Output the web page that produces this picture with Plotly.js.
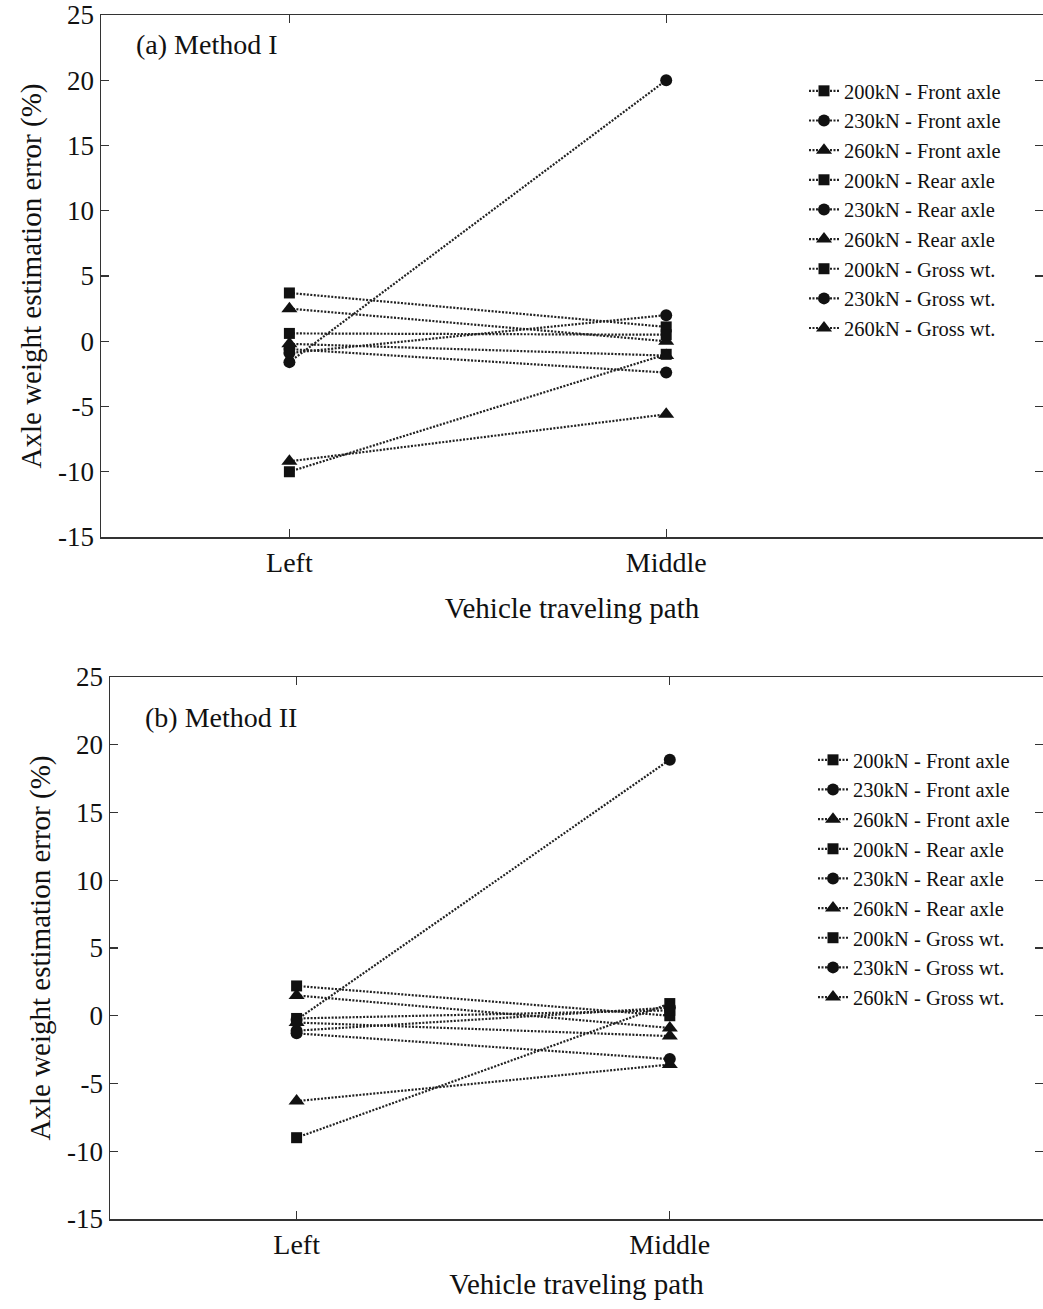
<!DOCTYPE html>
<html><head><meta charset="utf-8">
<script src="https://cdn.plot.ly/plotly-3.0.1.min.js"></script>
<style>html,body{margin:0;padding:0;background:#fff}</style>
</head><body><div id="chart" style="width:1043px;height:1309px"></div>
<script>
// Categories (vehicle traveling path)
const paths = ['Left', 'Middle'];

// Y tick labels (hyphen minus as printed)
const yTickVals = [-15, -10, -5, 0, 5, 10, 15, 20, 25];
const yTickText = ['-15', '-10', '-5', '0', '5', '10', '15', '20', '25'];

// Series names and marker symbols
const seriesNames = [
  '200kN - Front axle', '230kN - Front axle', '260kN - Front axle',
  '200kN - Rear axle', '230kN - Rear axle', '260kN - Rear axle',
  '200kN - Gross wt.', '230kN - Gross wt.', '260kN - Gross wt.'
];
const seriesSymbols = ['square', 'circle', 'triangle-up', 'square', 'circle', 'triangle-up', 'square', 'circle', 'triangle-up'];

// (a) Method I values (%), [Left, Middle]
const m1_200front = [-10.0, -1.0];
const m1_230front = [-1.6, 20.0];
const m1_260front = [-9.2, -5.6];
const m1_200rear  = [3.7, 1.1];
const m1_230rear  = [-0.6, -2.4];
const m1_260rear  = [2.5, 0.0];
const m1_200gross = [0.6, 0.5];
const m1_230gross = [-0.9, 2.0];
const m1_260gross = [-0.2, -1.1];

// (b) Method II values (%), [Left, Middle]
const m2_200front = [-9.0, 0.9];
const m2_230front = [-0.3, 18.9];
const m2_260front = [-6.3, -3.6];
const m2_200rear  = [2.2, 0.0];
const m2_230rear  = [-1.3, -3.2];
const m2_260rear  = [1.5, -0.9];
const m2_200gross = [-0.2, 0.4];
const m2_230gross = [-1.1, 0.6];
const m2_260gross = [-0.5, -1.5];

const methodI = [m1_200front, m1_230front, m1_260front, m1_200rear, m1_230rear, m1_260rear, m1_200gross, m1_230gross, m1_260gross];
const methodII = [m2_200front, m2_230front, m2_260front, m2_200rear, m2_230rear, m2_260rear, m2_200gross, m2_230gross, m2_260gross];

const FONT = 'Liberation Serif, Times New Roman, serif';
const INK = '#111';

const traces = [];
function addSeries(values, xa, ya, leg) {
  values.forEach((v, i) => {
    const sym = seriesSymbols[i];
    traces.push({
      type: 'scatter', mode: 'lines+markers',
      x: paths, y: v, xaxis: xa, yaxis: ya,
      name: seriesNames[i], legend: leg,
      line: {color: '#222', width: 2.2, dash: '2px,1.5px'},
      marker: {symbol: sym, color: INK, size: sym === 'triangle-up' ? 14 : (sym === 'circle' ? 12 : 11)},
      cliponaxis: false
    });
  });
}
addSeries(methodI, 'x', 'y', 'legend');
addSeries(methodII, 'x2', 'y2', 'legend2');

const W = 1043, H = 1309;
function yaxisCfg(top, bottom) {
  return {
    domain: [1 - bottom / H, 1 - top / H],
    range: [-15, 25], tickmode: 'array', tickvals: yTickVals, ticktext: yTickText,
    ticks: 'inside', ticklen: 8, tickcolor: '#333', tickwidth: 1.2,
    showline: true, linecolor: '#333', linewidth: 1.5, mirror: 'ticks',
    showgrid: false, zeroline: false,
    tickfont: {family: FONT, size: 27, color: INK},
    title: {text: 'Axle weight estimation error (%)', font: {family: FONT, size: 29, color: INK}, standoff: 8}
  };
}
function xaxisCfg(left, yanchor, standoff) {
  return {
    domain: [left / W, 1], anchor: yanchor,
    type: 'category', range: [-0.5, 2.0],
    ticks: 'inside', ticklen: 8, tickcolor: '#333', tickwidth: 1.2,
    showline: true, linecolor: '#333', linewidth: 1.5, mirror: 'ticks',
    showgrid: false, zeroline: false,
    tickfont: {family: FONT, size: 28, color: INK},
    title: {text: 'Vehicle traveling path', font: {family: FONT, size: 29, color: INK}, standoff: standoff}
  };
}

const legendCommon = {
  xanchor: 'left', yanchor: 'top', bgcolor: 'rgba(0,0,0,0)',
  font: {family: FONT, size: 20.5, color: INK}, itemwidth: 30
};

const layout = {
  width: W, height: H,
  margin: {l: 0, r: 0, t: 0, b: 0},
  paper_bgcolor: '#fff', plot_bgcolor: '#fff',
  showlegend: true,
  xaxis: xaxisCfg(101, 'y', 20),
  yaxis: Object.assign(yaxisCfg(15, 537), {anchor: 'x'}),
  xaxis2: xaxisCfg(110, 'y2', 14),
  yaxis2: Object.assign(yaxisCfg(677, 1219), {anchor: 'x2'}),
  legend: Object.assign({x: 804 / W, y: 1 - 71 / H}, legendCommon),
  legend2: Object.assign({x: 813 / W, y: 1 - 740 / H}, legendCommon),
  annotations: [
    {text: '(a) Method I', xref: 'paper', yref: 'paper', x: 134 / W, y: 1 - 45 / H, xanchor: 'left', yanchor: 'middle', showarrow: false, font: {family: FONT, size: 28, color: INK}},
    {text: '(b) Method II', xref: 'paper', yref: 'paper', x: 143 / W, y: 1 - 717 / H, xanchor: 'left', yanchor: 'middle', showarrow: false, font: {family: FONT, size: 28, color: INK}}
  ]
};

Plotly.newPlot('chart', traces, layout, {displayModeBar: false, staticPlot: true});
</script>
</body></html>
